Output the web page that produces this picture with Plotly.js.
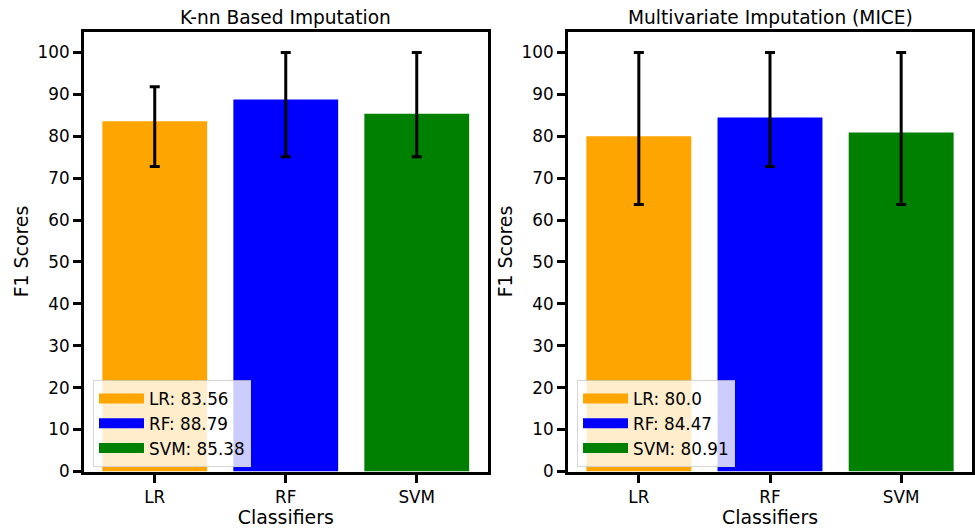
<!DOCTYPE html>
<html>
<head>
<meta charset="utf-8">
<script src="https://cdn.plot.ly/plotly-3.0.1.min.js"></script>
<style>html,body{margin:0;padding:0;background:#fff;}#chart{width:975px;height:528px;}</style>
</head>
<body>
<div id="chart"></div>
<script>
// ---- data ----
const classifiers = ["LR", "RF", "SVM"];
const barColors = ["orange", "blue", "green"];
const knnTitle = "K-nn Based Imputation";
const miceTitle = "Multivariate Imputation (MICE)";
const knnScores = [83.56, 88.79, 85.38];
const knnScoreLabels = ["83.56", "88.79", "85.38"];
const knnErrLow = [72.8, 75.1, 75.1];
const knnErrHigh = [91.8, 100, 100];
const miceScores = [80.0, 84.47, 80.91];
const miceScoreLabels = ["80.0", "84.47", "80.91"];
const miceErrLow = [63.7, 72.8, 63.7];
const miceErrHigh = [100, 100, 100];
const yTicks = [0, 10, 20, 30, 40, 50, 60, 70, 80, 90, 100];

const FONT = "DejaVu Sans, sans-serif";
const TICK_SIZE = 16.8, LABEL_SIZE = 18.9, TITLE_SIZE = 18.6, LEGEND_SIZE = 16.8;

function barTrace(scores, lo, hi, xa, ya) {
  return {
    type: "bar", x: classifiers, y: scores, xaxis: xa, yaxis: ya,
    width: 0.8, marker: {color: barColors, line: {width: 0}},
    showlegend: false, hoverinfo: "skip",
    error_y: {
      type: "data", symmetric: false,
      array: hi.map((h, i) => h - scores[i]),
      arrayminus: lo.map((l, i) => scores[i] - l),
      color: "black", thickness: 3, width: 5
    }
  };
}
function legendTraces(labels, xa, ya, legendId) {
  return classifiers.map((c, i) => ({
    type: "scatter", mode: "lines", x: [null], y: [null], xaxis: xa, yaxis: ya,
    name: c + ": " + labels[i], legend: legendId, legendgroup: legendId + c,
    line: {color: barColors[i], width: 14}, hoverinfo: "skip"
  }));
}

const data = [
  barTrace(knnScores, knnErrLow, knnErrHigh, "x", "y"),
  barTrace(miceScores, miceErrLow, miceErrHigh, "x2", "y2"),
  ...legendTraces(knnScoreLabels, "x", "y", "legend"),
  ...legendTraces(miceScoreLabels, "x2", "y2", "legend2")
];

const yDom = [56.5 / 528, (528 - 31.5) / 528];
function xAxis(dom, anchor) {
  return {
    domain: dom, anchor: anchor, type: "category", range: [-0.54, 2.54],
    showline: true, linecolor: "black", linewidth: 3, mirror: true,
    ticks: "outside", ticklen: 8, tickwidth: 3, tickcolor: "black",
    tickfont: {family: FONT, size: TICK_SIZE, color: "black"},
    showgrid: false, zeroline: false, automargin: false, fixedrange: true,
    title: {text: "Classifiers", font: {family: FONT, size: LABEL_SIZE, color: "black"}, standoff: 2}
  };
}
function yAxis(anchor) {
  return {
    domain: yDom, anchor: anchor, range: [0, 105],
    tickvals: yTicks, ticktext: yTicks.map(String),
    showline: true, linecolor: "black", linewidth: 3, mirror: true,
    ticks: "outside", ticklen: 8, tickwidth: 3, tickcolor: "black",
    tickfont: {family: FONT, size: TICK_SIZE, color: "black"},
    showgrid: false, zeroline: false, automargin: false, fixedrange: true,
    title: {text: "F1 Scores", font: {family: FONT, size: LABEL_SIZE, color: "black"}, standoff: 4}
  };
}
const legendCommon = {
  bgcolor: "rgba(255,255,255,0.8)", bordercolor: "rgba(204,204,204,0.8)", borderwidth: 1,
  font: {family: FONT, size: LEGEND_SIZE, color: "black"}, xref: "paper", yref: "paper",
  xanchor: "left", yanchor: "top", itemwidth: 45, tracegroupgap: 0
};

const layout = {
  width: 975, height: 528,
  margin: {l: 0, r: 0, t: 0, b: 0},
  paper_bgcolor: "white", plot_bgcolor: "white",
  font: {family: FONT, color: "black"},
  xaxis: xAxis([84 / 975, 487.5 / 975], "y"),
  yaxis: yAxis("x"),
  xaxis2: xAxis([568 / 975, 972 / 975], "y2"),
  yaxis2: yAxis("x2"),
  legend: Object.assign({}, legendCommon, {x: 93 / 975, y: (528 - 380) / 528}),
  legend2: Object.assign({}, legendCommon, {x: 577 / 975, y: (528 - 380) / 528}),
  annotations: [
    {text: knnTitle, xref: "x domain", yref: "paper", x: 0.5, y: (528 - 31.5) / 528,
     xanchor: "center", yanchor: "bottom", yshift: 2, showarrow: false,
     font: {family: FONT, size: TITLE_SIZE, color: "black"}},
    {text: miceTitle, xref: "x2 domain", yref: "paper", x: 0.5, y: (528 - 31.5) / 528,
     xanchor: "center", yanchor: "bottom", yshift: 2, showarrow: false,
     font: {family: FONT, size: TITLE_SIZE, color: "black"}}
  ]
};

Plotly.newPlot("chart", data, layout, {displayModeBar: false, staticPlot: true});
</script>
</body>
</html>
